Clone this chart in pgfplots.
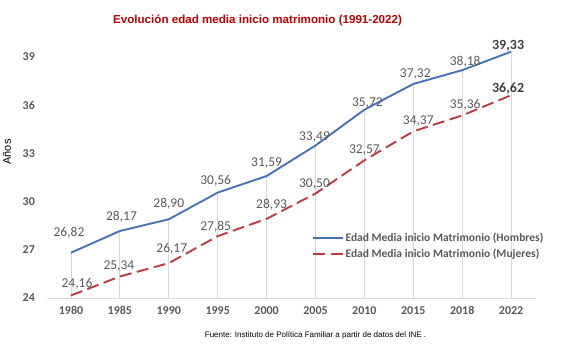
\documentclass[border=0pt]{standalone}
\usepackage{pgfplots}
\usepackage{pgfplotstable}
\pgfplotsset{compat=1.18}
\usepackage{fontspec}
\setmainfont{Carlito}
\newfontfamily\arialf{Liberation Sans}
\definecolor{hblue}{RGB}{70,114,185}
\definecolor{mred}{RGB}{192,56,66}
\definecolor{gridgray}{RGB}{217,217,217}
\definecolor{txtgray}{RGB}{89,89,89}
\definecolor{darkgray}{RGB}{64,64,64}
\definecolor{titlered}{RGB}{192,0,0}

\pgfplotstableread{
x y lab dx by
0 26.82 26,82 -2 15.7
1 28.17 28,17 1.6 10.7
2 28.90 28,90 0 11.7
3 30.56 30,56 -2 7.7
4 31.59 31,59 0 9.7
5 33.49 33,49 -1 4.7
6 35.72 35,72 3 2.7
7 37.32 37,32 2 6.7
8 38.18 38,18 3 4.7
9 39.33 39,33 -3 1.7
}\hombres

\pgfplotstableread{
x y lab dx by
0 24.16 24,16 6 7.7
1 25.34 25,34 -1 7.2
2 26.17 26,17 3 10.7
3 27.85 27,85 -2 5.7
4 28.93 28,93 5 10.7
5 30.50 30,50 -1 5.7
6 32.57 32,57 0 6.7
7 34.37 34,37 5 6.7
8 35.36 35,36 3 6.7
9 36.62 36,62 -3 2.7
}\mujeres

\pgfplotsset{
  lbl/.style={only marks, mark=*, mark size=0pt, forget plot,
    visualization depends on={\thisrow{dx} \as \ldx},
    visualization depends on={\thisrow{by} \as \lby},
    point meta=explicit symbolic,
    nodes near coords,
    every node near coord/.style={anchor=base, inner sep=0pt, xshift=\ldx bp, yshift=\lby bp, #1}},
}

\begin{document}
\begin{tikzpicture}
\path[use as bounding box] (-46.55bp,-51bp) rectangle (520.45bp,298bp);
\begin{axis}[
  scale only axis,
  width=489bp, height=257.1bp,
  xmin=-0.5, xmax=9.5,
  ymin=24, ymax=40,
  xtick={0,...,9},
  xticklabels={1980,1985,1990,1995,2000,2005,2010,2015,2018,2022},
  ytick={24,27,30,33,36,39},
  /pgf/number format/assume math mode=true,
  axis x line*=bottom, axis y line*=left,
  x axis line style={-, draw=gridgray, line width=1bp},
  y axis line style={draw=none},
  major tick length=0pt,
  tick style={draw=none},
  xticklabel style={inner sep=0pt, anchor=north, yshift=-8bp, font=\fontsize{12bp}{14bp}\selectfont\bfseries, text=txtgray},
  yticklabel style={inner sep=0pt, anchor=east, xshift=-11.5bp, font=\fontsize{12bp}{14bp}\selectfont\bfseries, text=txtgray},
  legend style={at={(0.5428,0.2023)}, anchor=west, draw=none, fill=none,
    font=\fontsize{11.5bp}{13bp}\selectfont\bfseries, text=txtgray, inner sep=0pt, row sep=2.5bp,
    nodes={inner sep=1.5bp}},
  legend cell align=left,
  legend image code/.code={\draw[#1] (0bp,0bp) -- (30bp,0bp);},
  clip mode=individual,
]
% drop lines
\addplot[ycomb, draw=gridgray, line width=0.8bp, forget plot] table[x=x, y=y] {\hombres};
% series
\addplot[hblue, line width=1.9bp] table[x=x, y=y] {\hombres};
\addlegendentry{Edad Media inicio Matrimonio (Hombres)}
\addplot[mred, line width=1.9bp, dash pattern=on 12bp off 5.5bp] table[x=x, y=y] {\mujeres};
\addlegendentry{Edad Media inicio Matrimonio (Mujeres)}
% labels
\addplot[lbl={font=\fontsize{13.5bp}{15bp}\selectfont, text=txtgray}, skip coords between index={9}{10}]
  table[x=x, y=y, meta=lab] {\hombres};
\addplot[lbl={font=\fontsize{13.5bp}{15bp}\selectfont, text=txtgray}, skip coords between index={9}{10}]
  table[x=x, y=y, meta=lab] {\mujeres};
\addplot[lbl={font=\fontsize{14bp}{16bp}\selectfont\bfseries, text=darkgray}, skip coords between index={0}{9}]
  table[x=x, y=y, meta=lab] {\hombres};
\addplot[lbl={font=\fontsize{14bp}{16bp}\selectfont\bfseries, text=darkgray}, skip coords between index={0}{9}]
  table[x=x, y=y, meta=lab] {\mujeres};
\end{axis}
\node[font=\arialf\bfseries\fontsize{11.6bp}{13bp}\selectfont, text=titlered] at (211bp,278bp) {Evolución edad media inicio matrimonio (1991-2022)};
\node[font=\arialf\fontsize{8bp}{9bp}\selectfont, text=black] at (269bp,-37bp) {Fuente: Instituto de Política Familiar a partir de datos del INE .};
\node[rotate=90, font=\arialf\fontsize{11bp}{12bp}\selectfont, text=black] at (-39.5bp,146bp) {Años};
\end{tikzpicture}
\end{document}
